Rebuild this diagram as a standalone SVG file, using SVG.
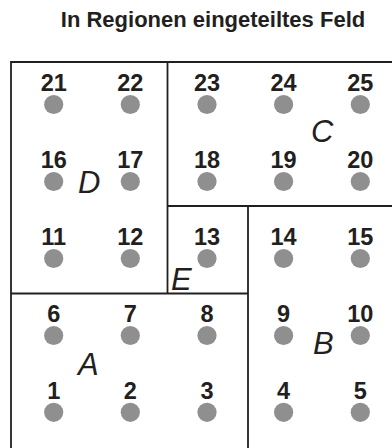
<svg xmlns="http://www.w3.org/2000/svg" width="392" height="448" viewBox="0 0 392 448">
<style>
.title{font-family:"Liberation Sans",Arial,sans-serif;font-weight:bold;font-size:22px;fill:#231f20;text-anchor:middle}
.num{font-family:"Liberation Sans",Arial,sans-serif;font-weight:bold;font-size:23.5px;fill:#231f20;text-anchor:middle}
.reg{font-family:"Liberation Sans",Arial,sans-serif;font-style:italic;font-size:31px;fill:#231f20}
.dot{fill:#8f8f8f}
.line{fill:none;stroke:#231f20;stroke-width:1.8}
</style>
<rect width="392" height="448" fill="#fff"/>
<text class="title" x="213" y="27">In Regionen eingeteiltes Feld</text>
<g id="borders">
<path class="line" d="M11,448 V62 H392"/>
<path class="line" d="M167.5,62 V293.5"/>
<path class="line" d="M167.5,206 H392"/>
<path class="line" d="M248,206 V448"/>
<path class="line" d="M11,293.5 H248"/>
</g>
<g id="regions">
<text class="reg" x="78" y="375">A</text>
<text class="reg" x="313" y="353.5">B</text>
<text class="reg" x="311" y="142">C</text>
<text class="reg" x="78" y="193">D</text>
<text class="reg" x="171" y="289.5">E</text>
</g>
<g id="n1"><circle class="dot" cx="53.7" cy="412.3" r="9.6"/><text class="num" x="53.7" y="398.5">1</text></g>
<g id="n2"><circle class="dot" cx="130.3" cy="412.3" r="9.6"/><text class="num" x="130.3" y="398.5">2</text></g>
<g id="n3"><circle class="dot" cx="207" cy="412.3" r="9.6"/><text class="num" x="207" y="398.5">3</text></g>
<g id="n4"><circle class="dot" cx="283.6" cy="412.3" r="9.6"/><text class="num" x="283.6" y="398.5">4</text></g>
<g id="n5"><circle class="dot" cx="360.3" cy="412.3" r="9.6"/><text class="num" x="360.3" y="398.5">5</text></g>
<g id="n6"><circle class="dot" cx="53.7" cy="335.5" r="9.6"/><text class="num" x="53.7" y="321.8">6</text></g>
<g id="n7"><circle class="dot" cx="130.3" cy="335.5" r="9.6"/><text class="num" x="130.3" y="321.8">7</text></g>
<g id="n8"><circle class="dot" cx="207" cy="335.5" r="9.6"/><text class="num" x="207" y="321.8">8</text></g>
<g id="n9"><circle class="dot" cx="283.6" cy="335.5" r="9.6"/><text class="num" x="283.6" y="321.8">9</text></g>
<g id="n10"><circle class="dot" cx="360.3" cy="335.5" r="9.6"/><text class="num" x="360.3" y="321.8">10</text></g>
<g id="n11"><circle class="dot" cx="53.7" cy="258.5" r="9.6"/><text class="num" x="53.7" y="245">11</text></g>
<g id="n12"><circle class="dot" cx="130.3" cy="258.5" r="9.6"/><text class="num" x="130.3" y="245">12</text></g>
<g id="n13"><circle class="dot" cx="207" cy="258.5" r="9.6"/><text class="num" x="207" y="245">13</text></g>
<g id="n14"><circle class="dot" cx="283.6" cy="258.5" r="9.6"/><text class="num" x="283.6" y="245">14</text></g>
<g id="n15"><circle class="dot" cx="360.3" cy="258.5" r="9.6"/><text class="num" x="360.3" y="245">15</text></g>
<g id="n16"><circle class="dot" cx="53.7" cy="181.5" r="9.6"/><text class="num" x="53.7" y="168">16</text></g>
<g id="n17"><circle class="dot" cx="130.3" cy="181.5" r="9.6"/><text class="num" x="130.3" y="168">17</text></g>
<g id="n18"><circle class="dot" cx="207" cy="181.5" r="9.6"/><text class="num" x="207" y="168">18</text></g>
<g id="n19"><circle class="dot" cx="283.6" cy="181.5" r="9.6"/><text class="num" x="283.6" y="168">19</text></g>
<g id="n20"><circle class="dot" cx="360.3" cy="181.5" r="9.6"/><text class="num" x="360.3" y="168">20</text></g>
<g id="n21"><circle class="dot" cx="53.7" cy="104.5" r="9.6"/><text class="num" x="53.7" y="91">21</text></g>
<g id="n22"><circle class="dot" cx="130.3" cy="104.5" r="9.6"/><text class="num" x="130.3" y="91">22</text></g>
<g id="n23"><circle class="dot" cx="207" cy="104.5" r="9.6"/><text class="num" x="207" y="91">23</text></g>
<g id="n24"><circle class="dot" cx="283.6" cy="104.5" r="9.6"/><text class="num" x="283.6" y="91">24</text></g>
<g id="n25"><circle class="dot" cx="360.3" cy="104.5" r="9.6"/><text class="num" x="360.3" y="91">25</text></g>
</svg>
